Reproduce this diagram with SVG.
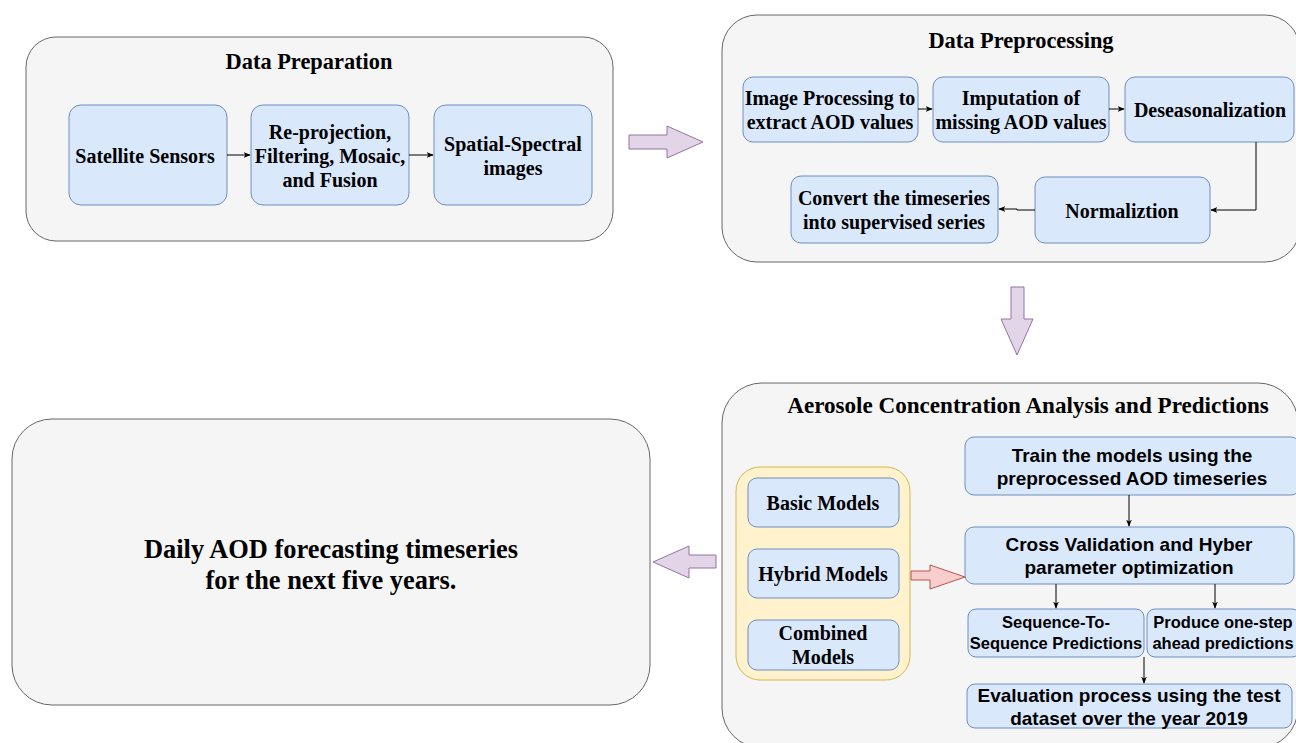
<svg xmlns="http://www.w3.org/2000/svg" width="1296" height="743" viewBox="0 0 1296 743">
  <defs>
    <marker id="arrow" viewBox="0 0 10 10" refX="9" refY="5" markerWidth="7" markerHeight="7" markerUnits="userSpaceOnUse" orient="auto">
      <path d="M0,1 L10,5 L0,9 L2.5,5 Z" fill="#000"/>
    </marker>
    <style>
      .panel { fill: #f5f5f5; stroke: #666; stroke-width: 1; }
      .node { fill: #dae8fc; stroke: #6c8ebf; stroke-width: 1; }
      .group { fill: #fff2cc; stroke: #d6b656; stroke-width: 1; }
      .bigarrow { fill: #e1d5e7; stroke: #9673a6; stroke-width: 1; }
      .redarrow { fill: #f8cecc; stroke: #b85450; stroke-width: 1; }
      .serif { font-family: "Liberation Serif", "Times New Roman", serif; font-weight: bold; fill: #000; text-anchor: middle; dominant-baseline: central; }
      .sans { font-family: "Liberation Sans", Arial, sans-serif; font-weight: bold; fill: #000; text-anchor: middle; dominant-baseline: central; }
      .t20 { font-size: 20px; }
      .title { font-size: 22.4px; }
      .conn { fill: none; stroke: #000; stroke-width: 1; marker-end: url(#arrow); }
    </style>
  </defs>
  <rect width="1296" height="743" fill="#ffffff"/>

  <!-- Data Preparation panel -->
  <g id="data-preparation">
    <rect class="panel" x="26" y="37" width="587" height="204" rx="30"/>
    <text class="serif title" x="309" y="61">Data Preparation</text>
  </g>
  <g id="satellite-sensors">
    <rect class="node" x="69" y="105" width="158" height="100" rx="12"/>
    <text class="serif t20" x="145" y="156">Satellite Sensors</text>
  </g>
  <g id="reprojection">
    <rect class="node" x="251" y="105" width="158" height="100" rx="12"/>
    <text class="serif t20" x="330" y="132">Re-projection,</text>
    <text class="serif t20" x="330" y="156">Filtering, Mosaic,</text>
    <text class="serif t20" x="330" y="180">and Fusion</text>
  </g>
  <g id="spatial-spectral">
    <rect class="node" x="434" y="105" width="158" height="100" rx="12"/>
    <text class="serif t20" x="513" y="144">Spatial-Spectral</text>
    <text class="serif t20" x="513" y="168">images</text>
  </g>

  <!-- Data Preprocessing panel -->
  <g id="data-preprocessing">
    <rect class="panel" x="722" y="15" width="578" height="247" rx="35"/>
    <text class="serif title" x="1021" y="40">Data Preprocessing</text>
  </g>
  <g id="image-processing">
    <rect class="node" x="743" y="77" width="175" height="65" rx="10"/>
    <text class="serif t20" x="830" y="98">Image Processing to</text>
    <text class="serif t20" x="830" y="122">extract AOD values</text>
  </g>
  <g id="imputation">
    <rect class="node" x="933" y="77" width="176" height="65" rx="10"/>
    <text class="serif t20" x="1021" y="98">Imputation of</text>
    <text class="serif t20" x="1021" y="122">missing AOD values</text>
  </g>
  <g id="deseasonalization">
    <rect class="node" x="1125" y="77" width="169" height="65" rx="10"/>
    <text class="serif t20" x="1210" y="110">Deseasonalization</text>
  </g>
  <g id="normalization">
    <rect class="node" x="1035" y="177" width="175" height="66" rx="10"/>
    <text class="serif t20" x="1122" y="211">Normaliztion</text>
  </g>
  <g id="supervised-series">
    <rect class="node" x="791" y="176" width="207" height="67" rx="10"/>
    <text class="serif t20" x="894" y="198">Convert the timeseries</text>
    <text class="serif t20" x="894" y="222">into supervised series</text>
  </g>

  <!-- Aerosol analysis panel -->
  <g id="aerosol-analysis">
    <rect class="panel" x="722" y="383" width="576" height="365" rx="40"/>
    <text class="serif" style="font-size:23.1px" x="1028" y="405">Aerosole Concentration Analysis and Predictions</text>
  </g>
  <g id="model-families">
    <rect class="group" x="736" y="467" width="174" height="213" rx="24"/>
  </g>
  <g id="basic-models">
    <rect class="node" x="748" y="478" width="151" height="49" rx="9"/>
    <text class="serif t20" x="823" y="503">Basic Models</text>
  </g>
  <g id="hybrid-models">
    <rect class="node" x="748" y="549" width="151" height="49" rx="9"/>
    <text class="serif t20" x="823" y="574">Hybrid Models</text>
  </g>
  <g id="combined-models">
    <rect class="node" x="748" y="620" width="151" height="50" rx="9"/>
    <text class="serif t20" x="823" y="633">Combined</text>
    <text class="serif t20" x="823" y="657">Models</text>
  </g>
  <g id="train-models">
    <rect class="node" x="965" y="437" width="335" height="58" rx="9"/>
    <text class="sans" style="font-size:19px" x="1132" y="455">Train the models using the</text>
    <text class="sans" style="font-size:19px" x="1132" y="478">preprocessed AOD timeseries</text>
  </g>
  <g id="cross-validation">
    <rect class="node" x="965" y="527" width="329" height="57" rx="9"/>
    <text class="sans" style="font-size:19px" x="1129" y="544">Cross Validation and Hyber</text>
    <text class="sans" style="font-size:19px" x="1129" y="567">parameter optimization</text>
  </g>
  <g id="seq2seq">
    <rect class="node" x="968" y="609" width="176" height="48" rx="8"/>
    <text class="sans" style="font-size:16.5px" x="1056" y="622">Sequence-To-</text>
    <text class="sans" style="font-size:16.5px" x="1056" y="643">Sequence Predictions</text>
  </g>
  <g id="one-step">
    <rect class="node" x="1147" y="609" width="153" height="48" rx="8"/>
    <text class="sans" style="font-size:16.5px" x="1223" y="622">Produce one-step</text>
    <text class="sans" style="font-size:16.5px" x="1223" y="643">ahead predictions</text>
  </g>
  <g id="evaluation">
    <rect class="node" x="967" y="684" width="325" height="44" rx="8"/>
    <text class="sans" style="font-size:19px" x="1129" y="695">Evaluation process using the test</text>
    <text class="sans" style="font-size:19px" x="1129" y="718">dataset over the year 2019</text>
  </g>

  <!-- Forecast output panel -->
  <g id="forecast-output">
    <rect class="panel" x="12" y="419" width="638" height="286" rx="40"/>
    <text class="serif" style="font-size:26.4px" x="331" y="549">Daily AOD forecasting timeseries</text>
    <text class="serif" style="font-size:26.4px" x="331" y="580">for the next five years.</text>
  </g>

  <!-- Block arrows between stages -->
  <g id="stage-arrows">
    <path class="bigarrow" d="M629,135 L667,135 L667,126 L703,142 L667,158 L667,149 L629,149 Z"/>
    <path class="bigarrow" d="M1011,287 L1024,287 L1024,319 L1033,319 L1017,355 L1001,319 L1011,319 Z"/>
    <path class="bigarrow" d="M716,555 L689,555 L689,546 L653,562 L689,578 L689,568 L716,568 Z"/>
    <path class="redarrow" d="M911,571 L930,571 L930,565 L965,577 L930,589 L930,580 L911,580 Z"/>
  </g>

  <!-- Connectors -->
  <g id="connectors">
    <path class="conn" d="M227,155 L250,155"/>
    <path class="conn" d="M409,155 L433,155"/>
    <path class="conn" d="M918,109 L932,109"/>
    <path class="conn" d="M1109,109 L1124,109"/>
    <path class="conn" d="M1256,142 L1256,210 L1211,210"/>
    <path class="conn" d="M1035,210 L1017,210 L1017,209 L999,209"/>
    <path class="conn" d="M1129,495 L1129,526"/>
    <path class="conn" d="M1056,584 L1056,608"/>
    <path class="conn" d="M1215,584 L1215,608"/>
    <path class="conn" d="M1144,657 L1144,683"/>
  </g>
</svg>
